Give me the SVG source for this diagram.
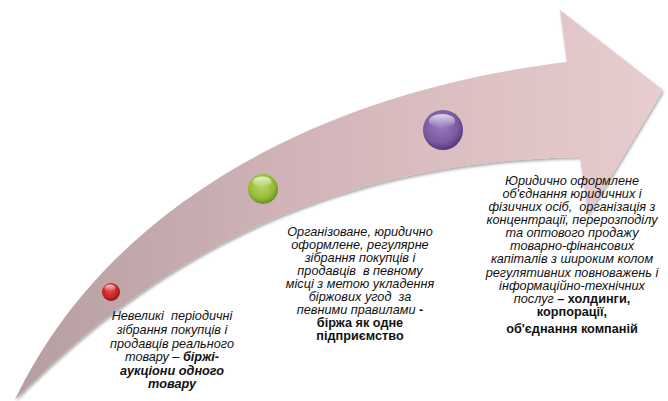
<svg xmlns="http://www.w3.org/2000/svg" width="668" height="401" viewBox="0 0 668 401">
<defs>
<linearGradient id="arrowGrad" x1="0" y1="0" x2="1" y2="0">
<stop offset="0" stop-color="#b59ea1"/>
<stop offset="0.45" stop-color="#d2b5b8"/>
<stop offset="1" stop-color="#e8cdcf"/>
</linearGradient>
<radialGradient id="red" cx="0.45" cy="0.4" r="0.6">
<stop offset="0" stop-color="#e84a48"/>
<stop offset="0.7" stop-color="#c42326"/>
<stop offset="1" stop-color="#8e1518"/>
</radialGradient>
<radialGradient id="green" cx="0.45" cy="0.4" r="0.6">
<stop offset="0" stop-color="#b8d862"/>
<stop offset="0.7" stop-color="#93bb38"/>
<stop offset="1" stop-color="#6b8d22"/>
</radialGradient>
<radialGradient id="purple" cx="0.45" cy="0.4" r="0.6">
<stop offset="0" stop-color="#9a7ac0"/>
<stop offset="0.7" stop-color="#7a5aa2"/>
<stop offset="1" stop-color="#56397a"/>
</radialGradient>
<linearGradient id="gloss" x1="0" y1="0" x2="0" y2="1">
<stop offset="0" stop-color="#ffffff" stop-opacity="0.75"/>
<stop offset="1" stop-color="#ffffff" stop-opacity="0"/>
</linearGradient>
<filter id="sh" x="-10%" y="-10%" width="120%" height="120%">
<feGaussianBlur in="SourceAlpha" stdDeviation="1.5"/>
<feOffset dx="1" dy="1.5" result="b"/>
<feComponentTransfer><feFuncA type="linear" slope="0.35"/></feComponentTransfer>
<feMerge><feMergeNode/><feMergeNode in="SourceGraphic"/></feMerge>
</filter>
</defs>
<style>
.t{font-family:"Liberation Sans",Arial,sans-serif;font-size:12.7px;font-style:italic;fill:#111;text-anchor:middle;white-space:pre}
.b{font-weight:bold;font-style:normal}
.bi{font-weight:bold;font-style:italic}
.hl{fill:url(#gloss)}
</style>
<rect width="668" height="401" fill="#ffffff"/>
<g id="connectors">
<path id="arrow" d="M15,400 C110,200 330,90 567,62 L560,10 L663,90 L588,215 L580,157 C400,160 200,210 15,400 Z" fill="url(#arrowGrad)" filter="url(#sh)"/>
</g>
<g id="node1">
<circle cx="111" cy="292" r="9" fill="url(#red)"/>
<ellipse cx="110" cy="288" rx="5.5" ry="3.5" class="hl"/>
<text class="t"><tspan x="172" y="320">Невеликі  періодичні</tspan><tspan x="172" y="334">зібрання покупців і</tspan><tspan x="172" y="348">продавців реального</tspan><tspan x="172" y="361">товару – <tspan class="bi">біржі-</tspan></tspan><tspan x="172" y="375" class="bi">аукціони одного</tspan><tspan x="172" y="388" class="bi">товару</tspan></text>
</g>
<g id="node2">
<circle cx="263" cy="189" r="15" fill="url(#green)"/>
<ellipse cx="262" cy="182" rx="9.5" ry="5.5" class="hl"/>
<text class="t"><tspan x="360" y="236">Організоване, юридично</tspan><tspan x="360" y="249">оформлене, регулярне</tspan><tspan x="360" y="262">зібрання покупців і</tspan><tspan x="360" y="275">продавців  в певному</tspan><tspan x="360" y="288">місці з метою укладення</tspan><tspan x="360" y="301">біржових угод  за</tspan><tspan x="360" y="314">певними правилами <tspan class="b">-</tspan></tspan><tspan x="360" y="327" class="b">біржа як одне</tspan><tspan x="360" y="340" class="b">підприємство</tspan></text>
</g>
<g id="node3">
<circle cx="443" cy="130" r="20" fill="url(#purple)"/>
<ellipse cx="442" cy="121" rx="13" ry="7" class="hl"/>
<text class="t"><tspan x="572" y="185">Юридично оформлене</tspan><tspan x="572" y="198">об'єднання юридичних і</tspan><tspan x="572" y="211">фізичних осіб,  організація з</tspan><tspan x="572" y="224">концентрації, перерозподілу</tspan><tspan x="572" y="237">та оптового продажу</tspan><tspan x="572" y="250">товарно-фінансових</tspan><tspan x="572" y="263">капіталів з широким колом</tspan><tspan x="572" y="277">регулятивних повноважень і</tspan><tspan x="572" y="290">інформаційно-технічних</tspan><tspan x="572" y="303">послуг <tspan class="b">– холдинги,</tspan></tspan><tspan x="572" y="316" class="b">корпорації,</tspan><tspan x="572" y="333" class="b">об'єднання компаній</tspan></text>
</g>
</svg>
